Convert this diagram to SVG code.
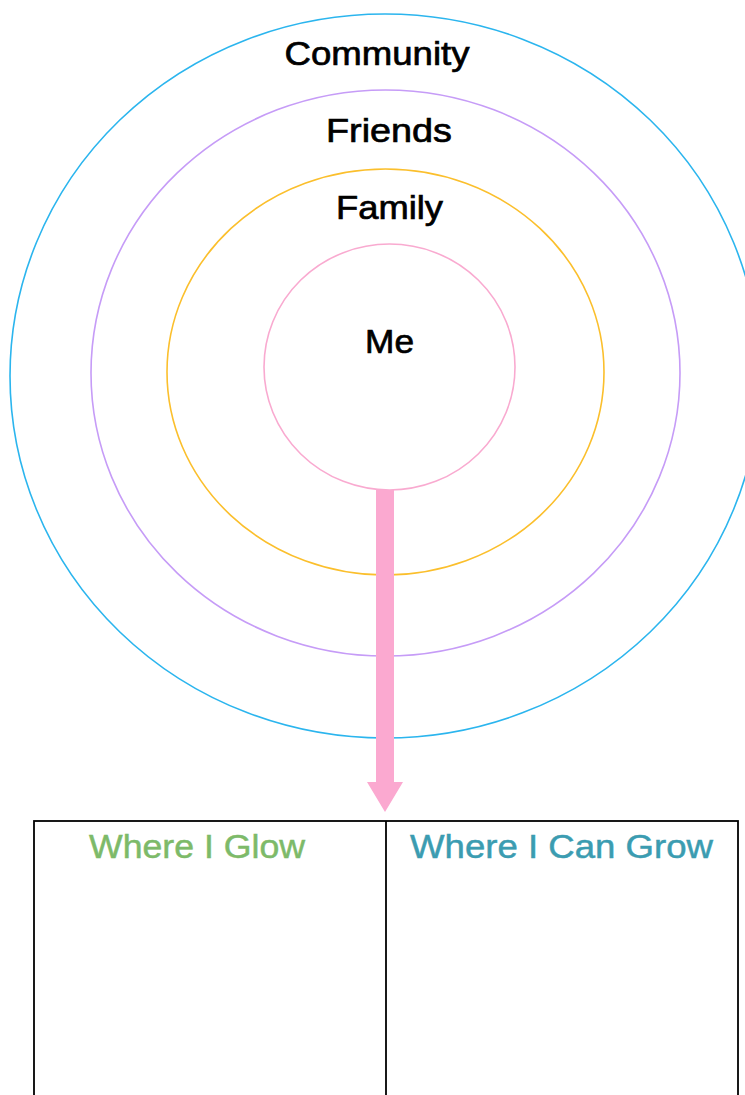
<svg xmlns="http://www.w3.org/2000/svg" width="745" height="1095" viewBox="0 0 745 1095">
<style>
.ring{fill:none;stroke-width:1.6}
.lbl{font-family:"Liberation Sans",Arial,sans-serif;font-size:34px;fill:#000;stroke:#000;stroke-width:0.7;text-anchor:middle}
.hdr{font-family:"Liberation Sans",Arial,sans-serif;font-size:34px;stroke-width:0.5;text-anchor:middle}
.box{fill:none;stroke:#000;stroke-width:1.8}
</style>
<rect width="745" height="1095" fill="#fff"/>
<g id="community"><ellipse class="ring" cx="385" cy="376" rx="375" ry="362" stroke="#2bb5ee"/><text class="lbl" x="377" y="65" textLength="185" lengthAdjust="spacingAndGlyphs">Community</text></g>
<g id="friends"><ellipse class="ring" cx="385.5" cy="373" rx="294.5" ry="283" stroke="#c69cf7"/><text class="lbl" x="389" y="142" textLength="126" lengthAdjust="spacingAndGlyphs">Friends</text></g>
<g id="family"><ellipse class="ring" cx="385.5" cy="372" rx="218.5" ry="203" stroke="#fbbf2c"/><text class="lbl" x="389.5" y="219" textLength="107" lengthAdjust="spacingAndGlyphs">Family</text></g>
<g id="me"><ellipse class="ring" cx="389.5" cy="367" rx="125.5" ry="123" stroke="#f9aad0"/><text class="lbl" x="389.5" y="353" textLength="49" lengthAdjust="spacingAndGlyphs">Me</text></g>
<g id="connectors"><polygon points="376,490 394,490 394,782 403,782 385,812 367,782 376,782" fill="#fba9d0"/></g>
<g id="table"><rect class="box" x="34" y="821" width="704" height="290"/><line class="box" x1="386" y1="821" x2="386" y2="1095"/></g>
<g id="glow"><text class="hdr" x="197" y="858" fill="#7dba69" stroke="#7dba69" textLength="216" lengthAdjust="spacingAndGlyphs">Where I Glow</text></g>
<g id="grow"><text class="hdr" x="561.5" y="858" fill="#3b9cb1" stroke="#3b9cb1" textLength="303" lengthAdjust="spacingAndGlyphs">Where I Can Grow</text></g>
</svg>
